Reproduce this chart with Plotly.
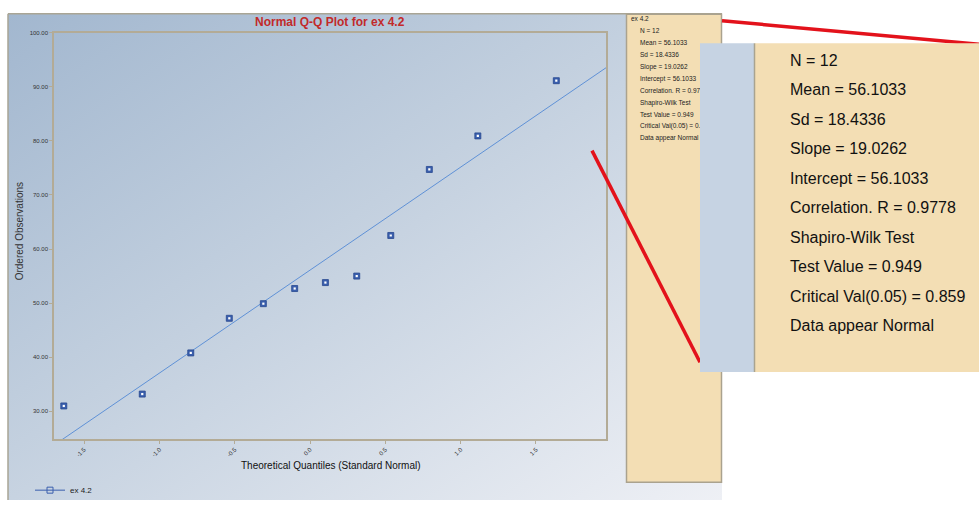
import base64
import plotly.graph_objects as go

# ---- data -------------------------------------------------------------
series_name = "ex 4.2"
theoretical_q = [-1.635, -1.114, -0.792, -0.536, -0.310, -0.102,
                 0.102, 0.310, 0.536, 0.792, 1.114, 1.635]
ordered_obs = [31.0, 33.2, 40.8, 47.2, 49.9, 52.7,
               53.8, 55.0, 62.5, 74.7, 80.9, 91.1]
slope = 19.0262
intercept = 56.1033
x_ticks = [-1.5, -1.0, -0.5, 0.0, 0.5, 1.0, 1.5]
y_ticks = [30, 40, 50, 60, 70, 80, 90, 100]

stats_lines = [
    "N = 12",
    "Mean = 56.1033",
    "Sd = 18.4336",
    "Slope = 19.0262",
    "Intercept = 56.1033",
    "Correlation. R = 0.9778",
    "Shapiro-Wilk Test",
    "Test Value = 0.949",
    "Critical Val(0.05) = 0.859",
    "Data appear Normal",
]

# ---- canvas geometry (pixels) ----------------------------------------
W, H = 979, 505
x_range = [-1.70, 1.965]
y_range = [24.9, 100]


def px(x):
    return x / W


def py(y):
    return 1 - y / H


FONT = "Liberation Sans, Arial, sans-serif"

# diagonal blue-grey background gradient for the chart panel
svg = (
    '<svg xmlns="http://www.w3.org/2000/svg" width="714" height="494">'
    '<defs><linearGradient id="g" x1="0" y1="0" x2="1" y2="1">'
    '<stop offset="0" stop-color="#a2b7cf"/>'
    '<stop offset="0.45" stop-color="#c3d0df"/>'
    '<stop offset="1" stop-color="#eef0f5"/>'
    '</linearGradient></defs>'
    '<rect width="714" height="494" fill="url(#g)"/></svg>'
)
bg_uri = "data:image/svg+xml;base64," + base64.b64encode(svg.encode()).decode()

fig = go.Figure()

# fitted reference line from slope / intercept
fig.add_trace(go.Scatter(
    x=x_range, y=[intercept + slope * v for v in x_range],
    mode="lines", line=dict(color="#5f91d6", width=1),
    cliponaxis=False, showlegend=False, hoverinfo="skip",
))

# observations
fig.add_trace(go.Scatter(
    x=theoretical_q, y=ordered_obs, mode="markers",
    marker=dict(symbol="square", size=6, color="#3a5fad",
                line=dict(color="#27488f", width=0.8)),
    showlegend=False,
))
fig.add_trace(go.Scatter(
    x=theoretical_q, y=ordered_obs, mode="markers",
    marker=dict(symbol="square", size=2.2, color="#ffffff", line=dict(width=0)),
    showlegend=False, hoverinfo="skip",
))

# legend entry for the series
fig.add_trace(go.Scatter(
    x=[None], y=[None], mode="lines+markers", name=series_name,
    line=dict(color="#3a5fad", width=1),
    marker=dict(symbol="square-open", size=6, color="#3a5fad"),
    showlegend=True,
))

# small statistics text in the side panel (on a pixel-mapped overlay axis,
# so the enlarged inset box can sit on top of it)
side_y = [17] + [29 + 12.1 * i for i in range(len(stats_lines))]
side_x = [631] + [640] * len(stats_lines)
fig.add_trace(go.Scatter(
    x=side_x, y=side_y, text=[series_name] + stats_lines,
    mode="text", textposition="middle right",
    textfont=dict(family=FONT, size=6.5, color="#222222"),
    xaxis="x2", yaxis="y2", showlegend=False, hoverinfo="skip",
    cliponaxis=False,
))

axis_line = "#b3ab96"
fig.update_layout(
    width=W, height=H, autosize=False,
    margin=dict(l=0, r=0, t=0, b=0, pad=0),
    paper_bgcolor="#ffffff", plot_bgcolor="rgba(0,0,0,0)",
    font=dict(family=FONT, color="#222222"),
    xaxis=dict(
        domain=[px(54), px(606)], range=x_range, tickvals=x_ticks,
        ticktext=[f"{v:.1f}" for v in x_ticks], tickangle=-45,
        tickfont=dict(size=6, color="#333333"),
        ticks="outside", ticklen=3, tickcolor=axis_line,
        showline=True, linecolor=axis_line, linewidth=1.5, mirror=True,
        showgrid=False, zeroline=False, anchor="y",
    ),
    yaxis=dict(
        domain=[py(443), py(30)], range=y_range, tickvals=y_ticks,
        ticktext=[f"{v:.2f}" for v in y_ticks],
        tickfont=dict(size=6, color="#333333"),
        ticks="outside", ticklen=3, tickcolor=axis_line,
        showline=True, linecolor=axis_line, linewidth=1.5, mirror=True,
        showgrid=False, zeroline=False, anchor="x",
    ),
    xaxis2=dict(domain=[0, 1], range=[0, W], visible=False,
                anchor="y2", fixedrange=True),
    yaxis2=dict(domain=[0, 1], range=[H, 0], visible=False,
                anchor="x2", fixedrange=True),
    legend=dict(
        x=px(30), y=py(495), xanchor="left", yanchor="middle",
        bgcolor="rgba(0,0,0,0)", font=dict(size=8, color="#222222"),
        itemwidth=30,
    ),
    images=[dict(
        source=bg_uri, xref="paper", yref="paper",
        x=px(8), y=py(11), sizex=px(722) - px(8), sizey=py(11) - py(505),
        xanchor="left", yanchor="top", sizing="stretch", layer="below",
    )],
)

shapes = [
    # chart panel frame (left / top edges)
    dict(type="line", xref="paper", yref="paper", x0=px(8), x1=px(8),
         y0=py(11), y1=py(505), line=dict(color="#a9a595", width=1.5),
         layer="below"),
    dict(type="line", xref="paper", yref="paper", x0=px(8), x1=px(722),
         y0=py(11), y1=py(11), line=dict(color="#a9a595", width=1.5),
         layer="below"),
    # statistics side panel
    dict(type="rect", xref="paper", yref="paper", x0=px(626.5), x1=px(721.5),
         y0=py(487), y1=py(11.5), fillcolor="#f3deb4",
         line=dict(color="#aaa28e", width=1.5), layer="below"),
    # red call-out lines
    dict(type="line", xref="paper", yref="paper", x0=px(722), y0=py(18),
         x1=px(979), y1=py(42), line=dict(color="#e3121b", width=3.5),
         layer="above"),
    dict(type="line", xref="paper", yref="paper", x0=px(592), y0=py(150),
         x1=px(700), y1=py(365), line=dict(color="#e3121b", width=3.5),
         layer="above"),
    # enlarged inset of the statistics panel
    dict(type="rect", xref="paper", yref="paper", x0=px(700), x1=px(754),
         y0=py(375), y1=py(41), fillcolor="#c6d3e3",
         line=dict(width=0), layer="above"),
    dict(type="rect", xref="paper", yref="paper", x0=px(755), x1=px(980),
         y0=py(375), y1=py(41), fillcolor="#f3deb4",
         line=dict(width=0), layer="above"),
    dict(type="line", xref="paper", yref="paper", x0=px(754.5), x1=px(754.5),
         y0=py(375), y1=py(41), line=dict(color="#a9a38f", width=1.5),
         layer="above"),
]
fig.update_layout(shapes=shapes)

annotations = [
    dict(text="<b>Normal Q-Q Plot for ex 4.2</b>", x=px(330), y=py(19),
         xref="paper", yref="paper", showarrow=False,
         font=dict(size=12, color="#c22a2a", family=FONT),
         xanchor="center", yanchor="middle"),
    dict(text="Theoretical Quantiles (Standard Normal)", x=px(331), y=py(470),
         xref="paper", yref="paper", showarrow=False,
         font=dict(size=10, color="#111111", family=FONT),
         xanchor="center", yanchor="middle"),
    dict(text="Ordered Observations", x=px(19), y=py(232),
         xref="paper", yref="paper", showarrow=False, textangle=-90,
         font=dict(size=10, color="#333333", family=FONT),
         xanchor="center", yanchor="middle"),
]
for i, line in enumerate(stats_lines):
    annotations.append(dict(
        text=line, x=px(788), y=py(58 + 30 * i), xref="paper", yref="paper",
        showarrow=False, xanchor="left", yanchor="middle",
        font=dict(size=16, color="#111111", family=FONT),
    ))
fig.update_layout(annotations=annotations)

fig.write_html("out.html")
